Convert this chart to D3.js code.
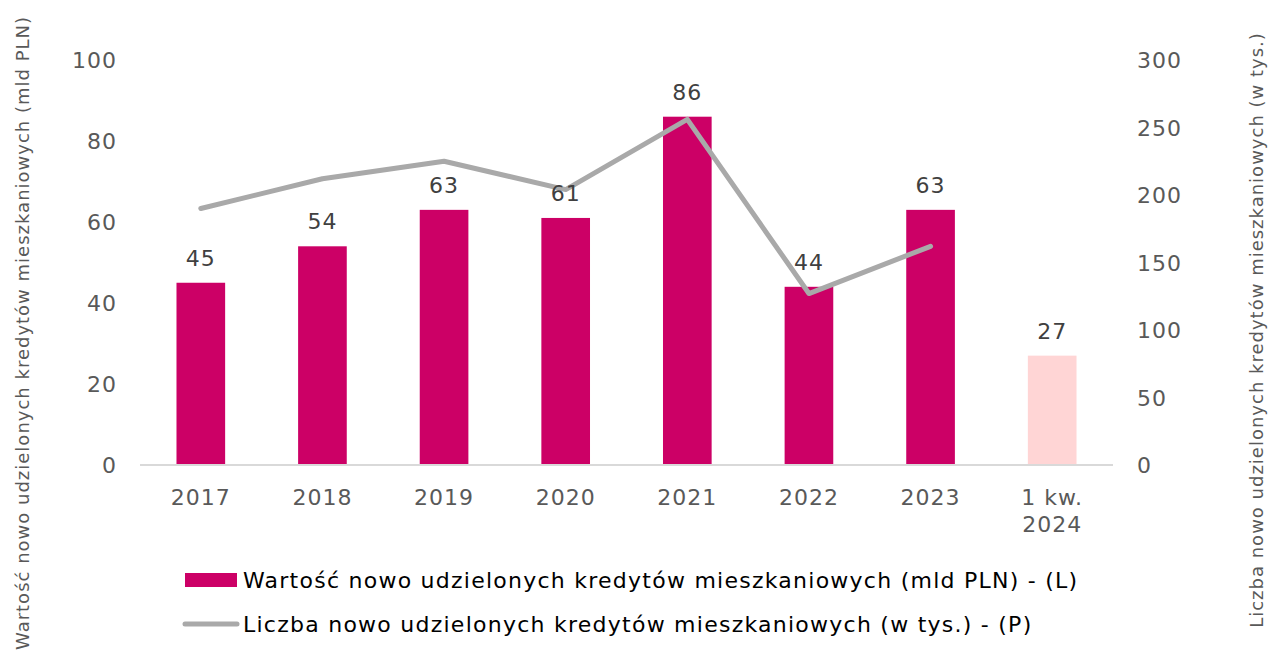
<!DOCTYPE html>
<html>
<head>
<meta charset="utf-8">
<script src="https://cdn.jsdelivr.net/npm/d3@7"></script>
<style>
  body { margin: 0; background: #fff; }
  text { font-family: "DejaVu Sans", Verdana, sans-serif; letter-spacing: 1px; }
</style>
</head>
<body>
<svg id="chart" width="1268" height="656"></svg>
<script>
// categories and series
var categories = ['2017', '2018', '2019', '2020', '2021', '2022', '2023', '1 kw.\n2024']
var valueBn = [45, 54, 63, 61, 86, 44, 63, 27]          // mld PLN, left axis
var countK = [190, 212, 225, 204, 256, 127, 162]       // w tys., right axis
var leftTicks = [0, 20, 40, 60, 80, 100]
var rightTicks = [0, 50, 100, 150, 200, 250, 300]

var barLabel = 'Wartość nowo udzielonych kredytów mieszkaniowych (mld PLN) - (L)'
var lineLabel = 'Liczba nowo udzielonych kredytów mieszkaniowych (w tys.) - (P)'
var leftTitle = 'Wartość nowo udzielonych kredytów mieszkaniowych (mld PLN)'
var rightTitle = 'Liczba nowo udzielonych kredytów mieszkaniowych (w tys.)'

// colours
var colorBar = '#cc0066'
var colorBarLast = '#ffd5d5'
var colorLine = '#a9a9a9'
var colorTick = '#595959'
var colorLabel = '#404040'

var svg = d3.select('#chart')
var plotLeft = 140, plotRight = 1113, plotTop = 60, plotBottom = 465

var x = d3.scaleBand().domain(categories).range([plotLeft, plotRight])
    .paddingInner(0.6).paddingOuter(0.3)
var yL = d3.scaleLinear().domain([0, 100]).range([plotBottom, plotTop])
var yR = d3.scaleLinear().domain([0, 300]).range([plotBottom, plotTop])

// bars
svg.append('g').selectAll('rect')
    .data(valueBn)
    .enter().append('rect')
    .attr('x', function(d, i) { return x(categories[i]) })
    .attr('width', x.bandwidth())
    .attr('y', function(d) { return yL(d) })
    .attr('height', function(d) { return yL(0) - yL(d) })
    .attr('fill', function(d, i) { return i === valueBn.length - 1 ? colorBarLast : colorBar })

// baseline
svg.append('line')
    .attr('x1', plotLeft).attr('x2', plotRight)
    .attr('y1', yL(0)).attr('y2', yL(0))
    .attr('stroke', '#d9d9d9').attr('stroke-width', 2)

// line
var line = d3.line()
    .x(function(d, i) { return x(categories[i]) + x.bandwidth() / 2 })
    .y(function(d) { return yR(d) })
svg.append('path')
    .datum(countK)
    .attr('d', line)
    .attr('fill', 'none')
    .attr('stroke', colorLine)
    .attr('stroke-width', 5)
    .attr('stroke-linecap', 'round')
    .attr('stroke-linejoin', 'round')

// data labels
svg.append('g').selectAll('text')
    .data(valueBn)
    .enter().append('text')
    .attr('x', function(d, i) { return x(categories[i]) + x.bandwidth() / 2 })
    .attr('y', function(d) { return yL(d) - 17 })
    .attr('text-anchor', 'middle')
    .attr('font-size', 22)
    .attr('fill', colorLabel)
    .text(function(d) { return d })

// left axis
var axL = d3.axisLeft(yL).tickValues(leftTicks).tickSize(0).tickPadding(0)
var gL = svg.append('g').attr('transform', 'translate(117,0)').call(axL)
gL.select('.domain').remove()
gL.selectAll('text').attr('font-size', 22).attr('fill', colorTick)
    .attr('font-family', '"DejaVu Sans", Verdana, sans-serif').attr('dy', '0.35em')

// right axis
var axR = d3.axisRight(yR).tickValues(rightTicks).tickSize(0).tickPadding(0)
var gR = svg.append('g').attr('transform', 'translate(1137,0)').call(axR)
gR.select('.domain').remove()
gR.selectAll('text').attr('font-size', 22).attr('fill', colorTick)
    .attr('font-family', '"DejaVu Sans", Verdana, sans-serif').attr('dy', '0.35em')

// category labels
var xl = svg.append('g').selectAll('text')
    .data(categories)
    .enter().append('text')
    .attr('text-anchor', 'middle')
    .attr('font-size', 22)
    .attr('fill', colorTick)
xl.each(function(d) {
    var parts = d.split('\n')
    var t = d3.select(this)
    parts.forEach(function(p, j) {
        t.append('tspan')
            .attr('x', x(d) + x.bandwidth() / 2)
            .attr('y', 505 + j * 27)
            .text(p)
    })
})

// axis titles
svg.append('text')
    .attr('transform', 'translate(29,333) rotate(-90)')
    .attr('text-anchor', 'middle')
    .attr('font-size', 18)
    .attr('fill', colorTick)
    .text(leftTitle)
svg.append('text')
    .attr('transform', 'translate(1263,330) rotate(-90)')
    .attr('text-anchor', 'middle')
    .attr('font-size', 18)
    .attr('fill', colorTick)
    .text(rightTitle)

// legend
var lg = svg.append('g')
lg.append('rect')
    .attr('x', 185).attr('y', 573).attr('width', 52).attr('height', 14)
    .attr('fill', colorBar)
lg.append('text')
    .attr('x', 243).attr('y', 588)
    .attr('font-size', 22).attr('fill', '#000')
    .style('letter-spacing', '1.25px')
    .text(barLabel)
lg.append('line')
    .attr('x1', 185).attr('x2', 237).attr('y1', 624).attr('y2', 624)
    .attr('stroke', colorLine).attr('stroke-width', 5).attr('stroke-linecap', 'round')
lg.append('text')
    .attr('x', 243).attr('y', 632)
    .attr('font-size', 22).attr('fill', '#000')
    .style('letter-spacing', '1.25px')
    .text(lineLabel)
</script>
</body>
</html>
